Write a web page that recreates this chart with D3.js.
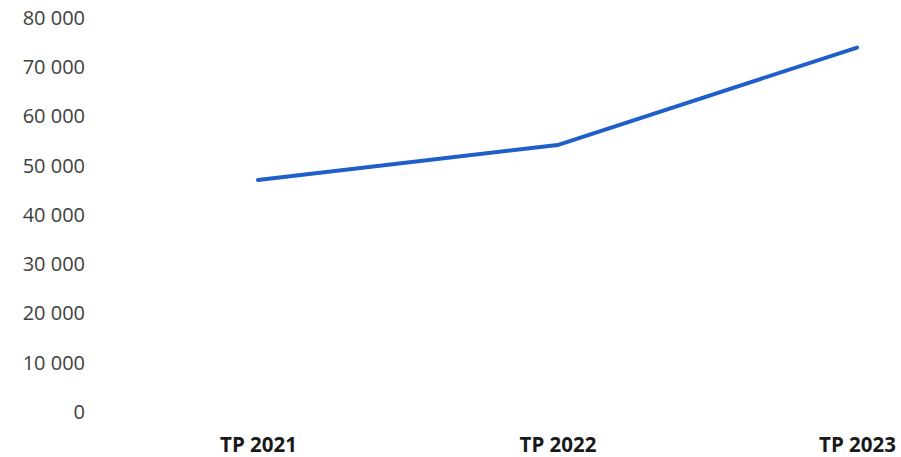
<!DOCTYPE html>
<html>
<head>
<meta charset="utf-8">
<script src="https://cdn.jsdelivr.net/npm/d3@7"></script>
<style>
  body { margin: 0; background: #fff; }
  #chart text { font-family: "Open Sans", sans-serif; }
</style>
</head>
<body>
<svg id="chart" width="901" height="457"></svg>
<script>
const categories = ["TP 2021", "TP 2022", "TP 2023"];
const values = [47100, 54200, 74000];
const yTicks = [0, 10000, 20000, 30000, 40000, 50000, 60000, 70000, 80000];

const svg = d3.select("#chart");

const x = d3.scalePoint().domain(categories).range([258, 857]);
const y = d3.scaleLinear().domain([0, 80000]).range([412, 18]);

const fmt = (d) => d3.format(",")(d).replace(/,/g, " ");

// y axis: labels only, no line/ticks
const yAxis = d3.axisLeft(y).tickValues(yTicks).tickFormat(fmt).tickSize(0).tickPadding(0);
const gy = svg.append("g").attr("transform", "translate(85,0)").call(yAxis);
gy.select(".domain").remove();
gy.selectAll("text")
  .attr("fill", "#404040")
  .style("font-size", "20px");

// x axis labels
const xAxis = d3.axisBottom(x).tickSize(0).tickPadding(0);
const gx = svg.append("g").attr("transform", "translate(0,437)").call(xAxis);
gx.select(".domain").remove();
gx.selectAll("text")
  .attr("fill", "#1a1a1a")
  .attr("dy", "0.71em")
  .style("font-size", "20.5px")
  .style("font-weight", "700");

const line = d3.line()
  .x((d, i) => x(categories[i]))
  .y((d) => y(d));

svg.append("path")
  .datum(values)
  .attr("fill", "none")
  .attr("stroke", "#1f5fc9")
  .attr("stroke-width", 4)
  .attr("stroke-linejoin", "round")
  .attr("stroke-linecap", "round")
  .attr("d", line);
</script>
</body>
</html>
